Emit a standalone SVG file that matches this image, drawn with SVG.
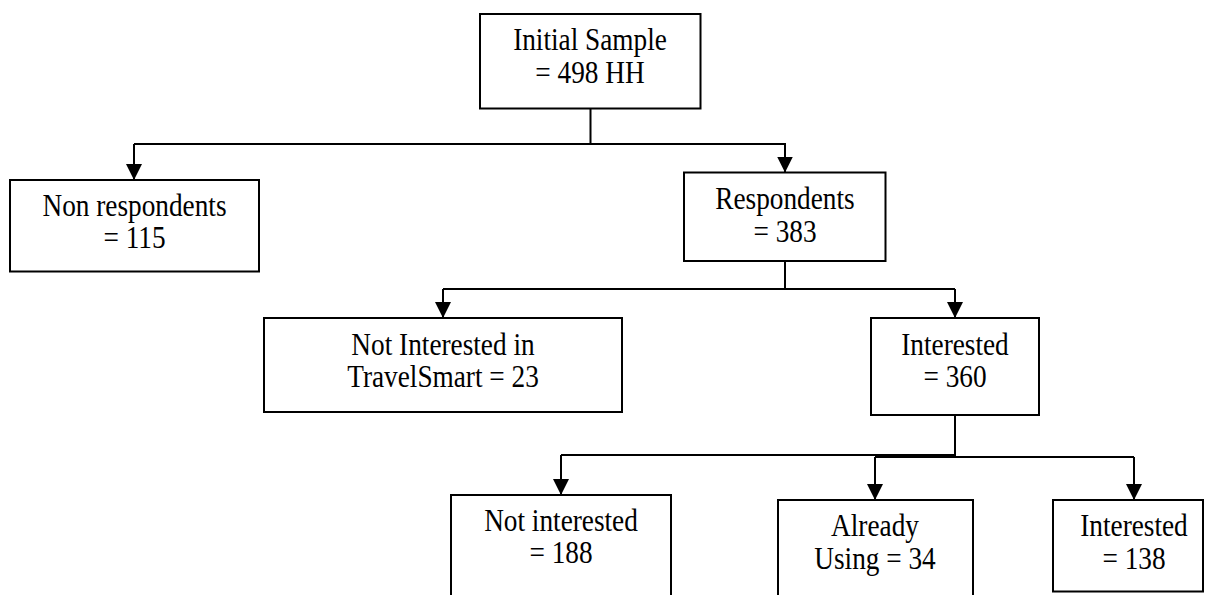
<svg xmlns="http://www.w3.org/2000/svg" width="1205" height="595" viewBox="0 0 1205 595">
<style>
.box{fill:#fff;stroke:#000;stroke-width:2}
.t{font-family:"Liberation Serif","Times New Roman",serif;font-size:31px;fill:#000;text-anchor:middle}
.c{fill:none;stroke:#000;stroke-width:2}
</style>
<defs>
<marker id="ah" markerUnits="userSpaceOnUse" markerWidth="17" markerHeight="17" refX="16" refY="8" orient="auto">
<path d="M0,0 L16,8 L0,16 z" fill="#000"/>
</marker>
</defs>
<rect width="1205" height="595" fill="#fff"/>
<g id="connectors">
<path class="c" d="M590.5,108.5 V144 M134,144 H786"/>
<path class="c" d="M134,144 V180" marker-end="url(#ah)"/>
<path class="c" d="M785,144 V172.5" marker-end="url(#ah)"/>
<path class="c" d="M785,261 V289 M443,289 H955"/>
<path class="c" d="M443,289 V318" marker-end="url(#ah)"/>
<path class="c" d="M955,289 V318" marker-end="url(#ah)"/>
<path class="c" d="M955,415 V457 M561,455 H955 M875,457 H1134"/>
<path class="c" d="M561,455 V495" marker-end="url(#ah)"/>
<path class="c" d="M875,457 V500" marker-end="url(#ah)"/>
<path class="c" d="M1134,457 V500" marker-end="url(#ah)"/>
</g>
<g id="initial">
<rect class="box" x="480" y="14" width="220.5" height="94.5"/>
<g transform="translate(590,0) scale(0.88,1)"><text class="t" x="0" y="50">Initial Sample</text><text class="t" x="0" y="83">= 498 HH</text></g>
</g>
<g id="nonrespondents">
<rect class="box" x="10" y="180" width="249" height="91.5"/>
<g transform="translate(134.5,0) scale(0.88,1)"><text class="t" x="0" y="216">Non respondents</text><text class="t" x="0" y="248">= 115</text></g>
</g>
<g id="respondents">
<rect class="box" x="684" y="172.5" width="201.5" height="88.5"/>
<g transform="translate(785,0) scale(0.88,1)"><text class="t" x="0" y="209">Respondents</text><text class="t" x="0" y="242">= 383</text></g>
</g>
<g id="notinterestedts">
<rect class="box" x="264" y="318" width="358" height="94"/>
<g transform="translate(443,0) scale(0.88,1)"><text class="t" x="0" y="355">Not Interested in</text><text class="t" x="0" y="387">TravelSmart = 23</text></g>
</g>
<g id="interested360">
<rect class="box" x="871" y="318" width="168" height="97"/>
<g transform="translate(955,0) scale(0.88,1)"><text class="t" x="0" y="355">Interested</text><text class="t" x="0" y="387">= 360</text></g>
</g>
<g id="notinterested188">
<rect class="box" x="451" y="495" width="220" height="110"/>
<g transform="translate(561,0) scale(0.88,1)"><text class="t" x="0" y="531">Not interested</text><text class="t" x="0" y="563">= 188</text></g>
</g>
<g id="alreadyusing">
<rect class="box" x="778" y="500" width="195" height="110"/>
<g transform="translate(875,0) scale(0.88,1)"><text class="t" x="0" y="536">Already</text><text class="t" x="0" y="569">Using = 34</text></g>
</g>
<g id="interested138">
<rect class="box" x="1053" y="500" width="150" height="91.5"/>
<g transform="translate(1134,0) scale(0.88,1)"><text class="t" x="0" y="536">Interested</text><text class="t" x="0" y="569">= 138</text></g>
</g>
</svg>
